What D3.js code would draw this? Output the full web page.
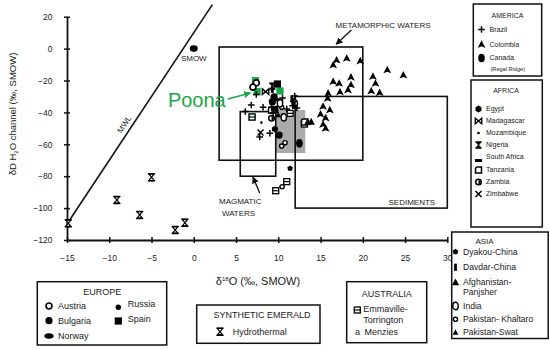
<!DOCTYPE html>
<html><head><meta charset="utf-8">
<script src="https://cdn.jsdelivr.net/npm/d3@7"></script>
<style>body{margin:0;background:#fff}svg{font-family:"Liberation Sans",Arial,sans-serif}</style>
</head><body>
<svg id="c" width="550" height="350"></svg>
<script>
// ---------- data ----------
const xTicks = [-15,-10,-5,0,5,10,15,20,25,30];
const yTicks = [20,0,-20,-40,-60,-80,-100,-120];
const mwl = [[-15,-110],[2.2,27.6]];
const smow = [[0,0]];
const metamorphicBox = [3,20,1,-70];
const magmaticBox = [5.5,9.7,-39.5,-80];
const sedimentsBox = [12,30,-30,-100];
const greyBox = [9.7,13.2,-38.5,-65.5];

const poona = [[7.3,-20.1],[7.5,-27.0],[10.2,-26.6],[6.9,-42.9]];
const brazil = [[7.4,-28.8],[6.8,-35.4],[6.1,-39.4],[8.2,-36.8],[9.2,-36.8],[11.0,-37.9],[11.7,-35.8],[12.2,-37.2],[11.95,-29.7],[7.8,-55.4],[9.0,-53.1],[11.8,-33.0],[10.5,-31.0],[9.4,-40.5]];
const colombia = [[16.9,-7.2],[18.1,-6.1],[19.7,-7.8],[16.5,-10.3],[22.9,-13.4],[24.8,-16.6],[21.2,-17.5],[18.6,-18.0],[16.5,-20.7],[17.2,-21.8],[18.6,-22.8],[21.5,-21.8],[18.25,-26.0],[17.3,-27.2],[21.0,-26.6],[22.0,-27.6],[15.9,-28.0],[15.85,-31.2],[15.3,-36.2],[16.1,-38.5],[15.0,-41.2],[15.6,-43.5],[15.3,-47.6],[15.6,-50.0]];
const canada = [[12.5,-59.4]];
const egypt = [[9.6,-50.5]];
const madagascar = [[8.5,-27.0]];
const mozambique = [[8.0,-46.4]];
const nigeria = [[9.3,-23.5]];
const southAfrica = [[9.7,-32.0]];
const tanzania = [[9.2,-38.5],[13.1,-46.0]];
const zambia = [[9.2,-43.7]];
const zimbabwe = [[7.9,-52.6]];
const dyakou = [[11.4,-75.1]];
const davdar = [[9.3,-25.5],[11.9,-35.4],[11.6,-31.5]];
const afghanistan = [[13.5,-45.8],[13.9,-45.8]];
const india = [[10.2,-34.3],[10.65,-43.1],[11.95,-34.3]];
const khaltaro = [[10.4,-61.1],[10.8,-59.0],[10.45,-86.6],[10.4,-36.8]];
const swat = [[10.0,-41.5]];
const austria = [[7.4,-21.5],[7.0,-24.2]];
const bulgaria = [[9.5,-30.2],[9.3,-33.3],[10.1,-54.2]];
const spain = [[9.9,-22.2],[9.6,-38.1]];
const hydrothermal = [[-5.0,-80.7],[-9.1,-94.9],[-6.4,-104.3],[-1.05,-109.2],[-2.2,-113.7],[-14.85,-109.5]];
const emmaville = [[9.7,-89.1],[11.0,-83.4],[13.1,-47.3],[6.9,-42.9],[11.4,-40.6]];

const americaItems = [["plus","Brazil"],["colombia","Colombia"],["canada","Canada"]];
const africaItems = [["egypt","Egypt"],["madagascar","Madagascar"],["mozambique","Mozambique"],["nigeria","Nigeria"],["southAfrica","South Africa"],["tanzania","Tanzania"],["zambia","Zambia"],["zimbabwe","Zimbabwe"]];
const asiaItems = [["dyakou","Dyakou-China"],["davdar","Davdar-China"],["afghanistan","Afghanistan-"],["india","India"],["khaltaro","Pakistan- Khaltaro"],["swat","Pakistan-Swat"]];

// ---------- chart ----------
const svg = d3.select("#c");
const x = d3.scaleLinear().domain([-15,30]).range([67,447.3]);
const y = d3.scaleLinear().domain([-120,20]).range([240,16.7]);
const GREEN = "#1aa64a";

const defs = svg.append("defs");
function marker(id,col){
  defs.append("marker").attr("id",id).attr("viewBox","0 0 10 10").attr("refX",9).attr("refY",5)
    .attr("markerWidth",7).attr("markerHeight",7).attr("orient","auto-start-reverse").attr("markerUnits","userSpaceOnUse")
    .append("path").attr("d","M0,0L10,5L0,10Z").attr("fill",col);
}
marker("ah","#111"); marker("ahg",GREEN);

// grey field
svg.append("rect").attr("x",x(greyBox[0])).attr("y",y(greyBox[2]))
  .attr("width",x(greyBox[1])-x(greyBox[0])).attr("height",y(greyBox[3])-y(greyBox[2])).attr("fill","#ababab");

function box(b){
  svg.append("rect").attr("x",x(b[0])).attr("y",y(b[2]))
    .attr("width",x(b[1])-x(b[0])).attr("height",y(b[3])-y(b[2]))
    .attr("fill","none").attr("stroke","#111").attr("stroke-width",1.6);
}
box(metamorphicBox); box(magmaticBox); box(sedimentsBox);

// axes
const gx = svg.append("g").attr("transform",`translate(0,${y(-120)})`)
  .call(d3.axisBottom(x).tickValues(xTicks).tickSize(3).tickSizeOuter(0).tickPadding(12));
const gy = svg.append("g").attr("transform",`translate(${x(-15)},0)`)
  .call(d3.axisLeft(y).tickValues(yTicks).tickSize(3).tickSizeOuter(0).tickPadding(11.5));
[gx,gy].forEach(g=>{
  g.attr("font-family",null).attr("font-size",8.5);
  g.select(".domain").attr("stroke","#111").attr("stroke-width",1.8);
  g.selectAll(".tick line").attr("stroke","#111").attr("stroke-width",1.5);
  g.selectAll(".tick text").attr("fill","#222");
});
gx.selectAll(".tick line").attr("y1",-3).attr("y2",3);
gy.selectAll(".tick line").attr("x1",-3).attr("x2",3);

// axis titles
const xt = svg.append("text").attr("x",258).attr("y",285).attr("text-anchor","middle").attr("font-size",11).attr("fill","#222");
xt.append("tspan").text("δ");
xt.append("tspan").text("18").attr("font-size",6).attr("dy",-4);
xt.append("tspan").text("O (‰, SMOW)").attr("dy",4);
const yt = svg.append("text").attr("transform","translate(16,114) rotate(-90)").attr("text-anchor","middle").attr("font-size",9.5).attr("fill","#222");
yt.append("tspan").text("δD H");
yt.append("tspan").text("2").attr("font-size",6).attr("dy",2);
yt.append("tspan").text("O channel (‰, SMOW)").attr("dy",-2);

// MWL
svg.append("line").attr("x1",x(mwl[0][0])).attr("y1",y(mwl[0][1])).attr("x2",x(mwl[1][0])).attr("y2",y(mwl[1][1]))
  .attr("stroke","#111").attr("stroke-width",1.6);
const ang = Math.atan2(y(mwl[1][1])-y(mwl[0][1]), x(mwl[1][0])-x(mwl[0][0]))*180/Math.PI;
svg.append("text").attr("transform",`translate(${x(-7.5)},${y(-50)}) rotate(${ang})`).attr("y",-4.5)
  .attr("text-anchor","middle").attr("font-size",8).attr("fill","#222").text("MWL");

// symbols
const SYM = {
  poona: g=>g.append("rect").attr("x",-3.6).attr("y",-3.6).attr("width",7.2).attr("height",7.2).attr("fill",GREEN),
  plus: g=>g.append("path").attr("d","M-3.3,0H3.3M0,-3.3V3.3").attr("stroke","#000").attr("stroke-width",1.5),
  colombia: g=>g.append("path").attr("d","M0,-4.2L3.9,3.4L0,1.8L-3.9,3.4Z").attr("fill","#000"),
  canada: g=>g.append("ellipse").attr("rx",3.3).attr("ry",4.3).attr("fill","#000"),
  egypt: g=>g.append("path").attr("d","M0,-3.4L3,-1.7L3,1.7L0,3.4L-3,1.7L-3,-1.7Z").attr("fill","#000"),
  madagascar: g=>g.append("path").attr("d","M-3.2,-2.8V2.8L3.2,-2.8V2.8Z").attr("fill","#fff").attr("stroke","#000").attr("stroke-width",1.4),
  mozambique: g=>g.append("circle").attr("r",1.3).attr("fill","#000"),
  nigeria: g=>g.append("path").attr("d","M-3,-3.2H3L-3,3.2H3Z").attr("fill","#000").attr("stroke","#000").attr("stroke-width",1),
  southAfrica: g=>g.append("rect").attr("x",-3.6).attr("y",-1.5).attr("width",7.2).attr("height",3).attr("fill","#000"),
  tanzania: g=>g.append("path").attr("d","M3,3H-3V-1Q-3,-3 -1,-3H3Z").attr("fill","#fff").attr("stroke","#000").attr("stroke-width",1.5),
  zambia: g=>{g.append("circle").attr("r",2.8).attr("fill","#fff").attr("stroke","#000").attr("stroke-width",1.5);
              g.append("path").attr("d","M0,-2.2A2.2,2.2 0 0 1 0,2.2Z").attr("fill","#000");},
  zimbabwe: g=>g.append("path").attr("d","M-3,-3L3,3M3,-3L-3,3").attr("stroke","#000").attr("stroke-width",1.5),
  dyakou: g=>g.append("path").attr("d",d3.range(5).map(i=>{const a=-Math.PI/2+i*2*Math.PI/5;return (i?"L":"M")+(3*Math.cos(a)).toFixed(2)+","+(3*Math.sin(a)).toFixed(2);}).join("")+"Z").attr("fill","#000"),
  davdar: g=>g.append("rect").attr("x",-1.4).attr("y",-3.6).attr("width",2.8).attr("height",7.2).attr("fill","#000"),
  afghanistan: g=>g.append("path").attr("d","M0,-3.8L3.6,3H-3.6Z").attr("fill","#000"),
  india: g=>g.append("ellipse").attr("rx",2.7).attr("ry",3.7).attr("fill","#fff").attr("stroke","#000").attr("stroke-width",1.5),
  khaltaro: g=>g.append("circle").attr("r",2.1).attr("fill","#fff").attr("stroke","#000").attr("stroke-width",1.4),
  swat: g=>g.append("path").attr("d","M0,-3L2.8,2.4H-2.8Z").attr("fill","#000"),
  austria: g=>g.append("circle").attr("r",3).attr("fill","#fff").attr("stroke","#000").attr("stroke-width",1.7),
  bulgaria: g=>g.append("circle").attr("r",3.6).attr("fill","#000"),
  norway: g=>g.append("ellipse").attr("rx",4.6).attr("ry",2.7).attr("fill","#000"),
  russia: g=>g.append("circle").attr("r",2.7).attr("fill","#000"),
  spain: g=>g.append("rect").attr("x",-3.6).attr("y",-3.6).attr("width",7.2).attr("height",7.2).attr("fill","#000"),
  hydro: g=>{g.append("path").attr("d","M-2.8,-3.4H2.8L-2.8,3.4H2.8Z").attr("fill","#fff").attr("stroke","#000").attr("stroke-width",1.2);
             g.append("path").attr("d","M-3.2,-3.4H3.2M-3.2,3.4H3.2").attr("stroke","#000").attr("stroke-width",1.6);},
  emmaville: g=>{g.append("rect").attr("x",-3).attr("y",-3).attr("width",6).attr("height",6).attr("fill","#fff").attr("stroke","#000").attr("stroke-width",1.3);
                 g.append("path").attr("d","M-3,0H3").attr("stroke","#000").attr("stroke-width",1.2);},
  menzies: g=>g.append("text").attr("text-anchor","middle").attr("dy","0.3em").attr("font-size",9).attr("fill","#222").text("a")
};
function plot(data,type){
  svg.append("g").selectAll("g").data(data).join("g")
    .attr("transform",d=>`translate(${x(d[0])},${y(d[1])})`)
    .each(function(){SYM[type](d3.select(this));});
}
plot(poona,"poona");
plot(colombia,"colombia");
plot(khaltaro,"khaltaro");
plot(emmaville,"emmaville");
plot(india,"india");
plot(austria,"austria");
plot(tanzania,"tanzania");
plot(zambia,"zambia");
plot(bulgaria,"bulgaria");
plot(spain,"spain");
plot(davdar,"davdar");
plot(madagascar,"madagascar");
plot(nigeria,"nigeria");
plot(southAfrica,"southAfrica");
plot(egypt,"egypt");
plot(mozambique,"mozambique");
plot(zimbabwe,"zimbabwe");
plot(dyakou,"dyakou");
plot(afghanistan,"afghanistan");
plot(swat,"swat");
plot(canada,"canada");
plot(brazil,"plus");
plot(hydrothermal,"hydro");

// SMOW
svg.append("ellipse").attr("cx",x(smow[0][0])).attr("cy",y(smow[0][1])).attr("rx",4).attr("ry",3.3).attr("fill","#000");
svg.append("text").attr("x",x(smow[0][0])).attr("y",y(smow[0][1])+12).attr("text-anchor","middle").attr("font-size",8).attr("fill","#222").text("SMOW");

// field labels and arrows
function lbl(t,px,py,fs){svg.append("text").attr("x",px).attr("y",py).attr("text-anchor","middle").attr("font-size",fs||8).attr("fill","#222").text(t);}
lbl("METAMORPHIC WATERS",x(22.4),y(15)+3);
svg.append("line").attr("x1",x(18.65)).attr("y1",y(11.7)).attr("x2",x(16.85)).attr("y2",y(2.7)).attr("stroke","#111").attr("stroke-width",1.3).attr("marker-end","url(#ah)");
lbl("MAGMATIC",x(5.5),y(-95.5)+3);
lbl("WATERS",x(5.3),y(-103)+3);
svg.append("line").attr("x1",x(7.8)).attr("y1",y(-90.5)).attr("x2",x(7.0)).attr("y2",y(-80.5)).attr("stroke","#111").attr("stroke-width",1.3).attr("marker-end","url(#ah)");
lbl("SEDIMENTS",x(25.8),y(-96)+3);
svg.append("text").attr("x",x(-3.06)).attr("y",y(-36.6)).attr("font-size",20).attr("fill",GREEN).text("Poona");
svg.append("line").attr("x1",x(4.03)).attr("y1",y(-31.6)).attr("x2",x(6.7)).attr("y2",y(-27.8)).attr("stroke",GREEN).attr("stroke-width",1.5).attr("marker-end","url(#ahg)");

// ---------- legends ----------
function lbox(bx,by,bw,bh){svg.append("rect").attr("x",bx).attr("y",by).attr("width",bw).attr("height",bh).attr("fill","#fff").attr("stroke","#111").attr("stroke-width",1.5);}
function ltext(t,px,py,fs,anchor){return svg.append("text").attr("x",px).attr("y",py).attr("dy","0.35em").attr("text-anchor",anchor||"start").attr("font-size",fs).attr("fill","#222").text(t);}
function lsym(type,px,py){const g=svg.append("g").attr("transform",`translate(${px},${py})`);SYM[type](g);}

// America
lbox(473.3,4,68.4,72);
ltext("AMERICA",507.5,15.5,7,"middle");
[29.5,44.5,58].forEach((ry,i)=>{lsym(americaItems[i][0],481.5,ry);ltext(americaItems[i][1],489.5,ry,7);});
ltext("(Regal Ridge)",490.5,69.5,5.6);

// Africa
lbox(471,80,71.3,147);
ltext("AFRICA",506,91,7,"middle");
[109,121,133,145,157,170,182,194].forEach((ry,i)=>{
  const t=africaItems[i][0];
  lsym(t,478.5,t==="southAfrica"?ry+3.5:ry);
  ltext(africaItems[i][1],486,ry,7);
});

// Asia
lbox(451.7,232,96.5,106.5);
ltext("ASIA",484.5,241.5,8,"middle");
[251.7,267.3,282.3,306,319.3,332.3].forEach((ry,i)=>{lsym(asiaItems[i][0],455.5,ry);ltext(asiaItems[i][1],463,ry,8.6);});
ltext("Panjsher",463,291.7,8.6);

// Europe
lbox(37.3,281.7,129.4,63.3);
ltext("EUROPE",102.3,292.3,9,"middle");
lsym("austria",49,306); ltext("Austria",58,306,9);
lsym("bulgaria",49,320.7); ltext("Bulgaria",58,320.7,9);
lsym("norway",49,336); ltext("Norway",58,336,9);
lsym("russia",118.3,307.3); ltext("Russia",127.7,304.3,9);
lsym("spain",118.3,321); ltext("Spain",127.7,319.3,9);

// Synthetic
lbox(196.7,305,123.3,38.3);
ltext("SYNTHETIC EMERALD",262,314.5,9,"middle");
lsym("hydro",220,331.7); ltext("Hydrothermal",232.7,331.7,9);

// Australia
lbox(346.7,281.7,80,61);
ltext("AUSTRALIA",386.7,294.3,9,"middle");
lsym("emmaville",357.3,310); ltext("Emmaville-",363.3,309,9); ltext("Torrington",363.3,320,9);
lsym("menzies",357.5,332.3); ltext("Menzies",364.5,332.3,9);
</script>
</body></html>
